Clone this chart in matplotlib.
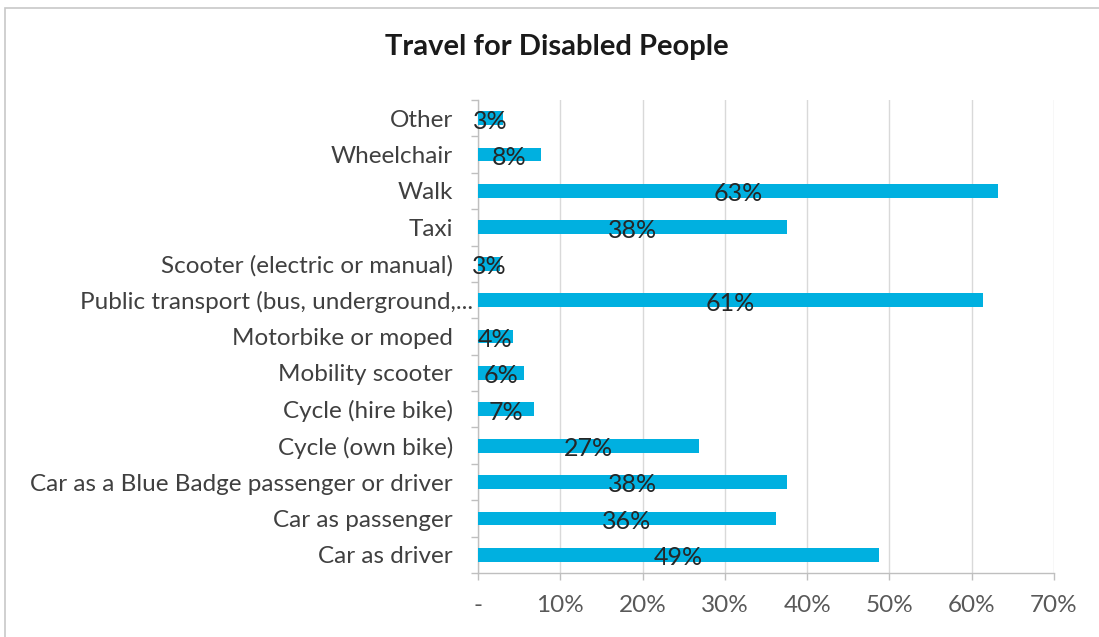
import matplotlib
matplotlib.use("Agg")
import matplotlib.pyplot as plt
import matplotlib.transforms as mtransforms
from matplotlib.patches import Rectangle
import numpy as np

plt.rcParams['font.family'] = ['Lato', 'DejaVu Sans']

# categories listed bottom to top, as they sit on the axis
modes = [
    "Car as driver",
    "Car as passenger",
    "Car as a Blue Badge passenger or driver",
    "Cycle (own bike)",
    "Cycle (hire bike)",
    "Mobility scooter",
    "Motorbike or moped",
    "Public transport (bus, underground,...",
    "Scooter (electric or manual)",
    "Taxi",
    "Walk",
    "Wheelchair",
    "Other",
]
share = [48.7, 36.2, 37.6, 26.9, 6.8, 5.6, 4.2, 61.4, 2.7, 37.6, 63.2, 7.6, 3.0]
xticks = [0, 10, 20, 30, 40, 50, 60, 70]
xticklabels = ["-", "10%", "20%", "30%", "40%", "50%", "60%", "70%"]

bar_col = "#00B0E0"
txt_col = "#404040"
axis_col = "#BFBFBF"
fs = 17.5

fig = plt.figure(figsize=(10.99, 6.37), dpi=100)
ax = fig.add_axes([478 / 1099, 1 - 573 / 637, 576 / 1099, 473 / 637])

y = np.arange(len(modes))
ax.barh(y, share, height=0.38, color=bar_col, zorder=3)

for yi, v in zip(y, share):
    ax.text(v / 2, yi - 0.08, "{:.0f}%".format(v), ha="center", va="center",
            fontsize=fs + 0.5, color="#262626", zorder=4)

ax.set_xlim(0, 70)
ax.set_ylim(-0.5, len(modes) - 0.5)
ax.set_xticks(xticks)
ax.set_xticklabels(xticklabels, fontsize=fs, color="#595959")
ax.set_yticks(y)
ax.set_yticklabels(modes, fontsize=fs, color=txt_col)
ax.set_yticks(np.arange(-0.5, len(modes), 1), minor=True)

ax.tick_params(axis="y", which="major", length=0, pad=18)
ax.tick_params(axis="y", which="minor", length=5, color=axis_col, width=1)
ax.tick_params(axis="x", length=5, color=axis_col, width=1, pad=11)

# the truncated label runs closer to the axis
for lab in ax.get_yticklabels():
    if lab.get_text().endswith("..."):
        lab.set_transform(lab.get_transform() +
                          mtransforms.ScaledTranslation(20 / 100, 0, fig.dpi_scale_trans))

ax.grid(axis="x", color="#D9D9D9", linewidth=1, zorder=0)
for side in ["top", "right"]:
    ax.spines[side].set_visible(False)
for side in ["left", "bottom"]:
    ax.spines[side].set_color(axis_col)
    ax.spines[side].set_linewidth(1)

fig.text(557 / 1099, 1 - 47 / 637, "Travel for Disabled People", ha="center",
         va="center", fontsize=21, fontweight="bold", color="#1a1a1a")

# chart frame
fig.patches.append(Rectangle((5 / 1099, -0.1), 1.2, 1.1 - 8 / 637,
                             transform=fig.transFigure, fill=False,
                             edgecolor="#C8C8C8", linewidth=1.2))

fig.savefig("out.png", dpi=100)
